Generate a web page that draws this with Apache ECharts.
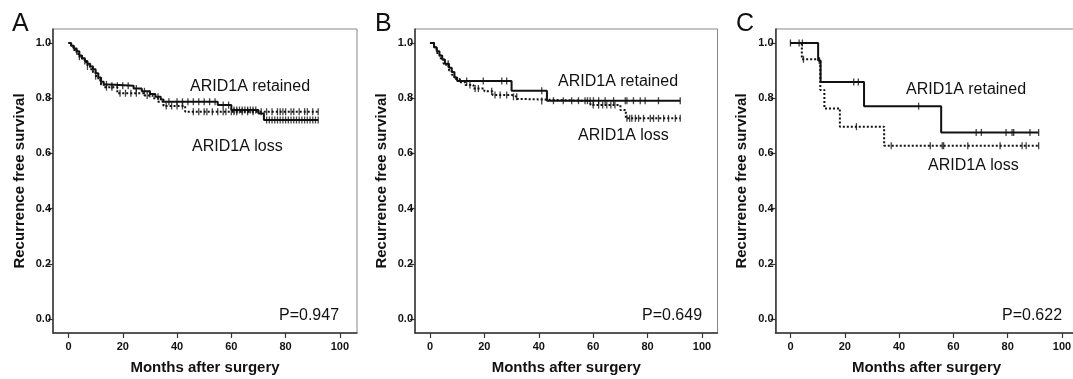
<!DOCTYPE html>
<html><head><meta charset="utf-8">
<script src="https://cdn.jsdelivr.net/npm/echarts@6/dist/echarts.min.js"></script>
<style>html,body{margin:0;padding:0;background:#fff;overflow:hidden}#c{width:1073px;height:379px}</style>
</head><body><div id="c"></div>
<script>
// ---- data ----
const xTicks = [0, 20, 40, 60, 80, 100];
const yTicks = [0, 0.2, 0.4, 0.6, 0.8, 1.0];
const panelLetters = ['A', 'B', 'C'];
const pValues = ['P=0.947', 'P=0.649', 'P=0.622'];
const groupNames = ['ARID1A retained', 'ARID1A loss'];
const xTitle = 'Months after surgery';
const yTitle = 'Recurrence free survival';

// Panel A: Kaplan-Meier steps [month, survival]
const aRetained = [[0,1.0],[1,0.99],[2,0.98],[3,0.97],[4,0.955],[5,0.945],[6,0.935],[7,0.925],[8,0.915],[9,0.905],[10,0.89],[11,0.875],[12,0.86],[13,0.85],[15,0.845],[24,0.835],[27,0.825],[30,0.815],[32,0.805],[34,0.795],[35,0.787],[55,0.775],[60,0.757],[70,0.745],[72,0.721],[92,0.721]];
const aLoss = [[0,1.0],[1,0.985],[2,0.975],[3,0.96],[4,0.95],[5,0.94],[6,0.93],[7,0.915],[8,0.905],[9,0.895],[10,0.88],[11,0.865],[12,0.85],[13,0.84],[18,0.818],[28,0.81],[31,0.80],[33,0.787],[35,0.772],[43,0.751],[92,0.751]];
const aRetainedCensor = [3,6,9,12,14,16,18,20,22,25,28,30,33,37,40,42,44,46,48,50,52,54,57,59,61,62,63,64,65,66,67,68,69,73,74,75,76,77,78,79,80,81,82,83,84,85,86,87,88,89,90,91,92];
const aLossCensor = [4,7,10,14,16,19,21,23,25,29,36,38,40,42,46,48,50,51,53,55,57,58,60,61,62,64,66,68,71,73,75,77,78,79,80,82,83,85,87,88,90,92];

// Panel B
const bRetained = [[0,1.0],[1.5,0.985],[2.5,0.97],[3.5,0.955],[4.5,0.94],[5.5,0.925],[7,0.91],[8,0.895],[9,0.875],[10,0.862],[30,0.827],[43,0.791],[92,0.791]];
const bLoss = [[0,1.0],[1.5,0.985],[2.5,0.97],[3,0.955],[4,0.94],[5,0.925],[6,0.915],[7,0.9],[8,0.885],[9,0.87],[11,0.858],[13,0.848],[16,0.835],[20,0.825],[23,0.812],[30,0.805],[32,0.797],[35,0.79],[59,0.775],[70,0.757],[72,0.727],[92,0.727]];
const bRetainedCensor = [6.7,13.5,19.6,26.4,28.2,41.1,45.4,49,52.1,54.6,57,57.9,58.9,60.1,62,64.4,67.5,71.8,72.4,74.8,77.3,79.1,84,92];
const bLossCensor = [14.7,16.6,17.8,22.7,23.9,25.8,28.2,30.7,31.9,41.1,60,62,63.5,65,66.5,68,72.4,73.4,74.2,75.5,76.7,78.5,81,82.2,84,85.9,87.7,90.2,92];

// Panel C
const cRetained = [[0,1.0],[10.2,0.937],[11.1,0.859],[27.1,0.771],[55.5,0.676],[91.4,0.676]];
const cLoss = [[0,1.0],[4.2,0.941],[11,0.83],[12.5,0.763],[18.2,0.697],[34.5,0.628],[91.4,0.628]];
const cRetainedCensor = [0,3.2,4.4,10.6,23.3,25,47.2,68.4,70.3,79.4,81.6,82.2,88.2,91.4];
const cLossCensor = [4.8,24.3,37.1,51.5,55.9,56.4,65.3,77.2,85.3,86.8,91.4];

// ---- build ----
const curves = [[aRetained, aLoss], [bRetained, bLoss], [cRetained, cLoss]];
const censors = [[aRetainedCensor, aLossCensor], [bRetainedCensor, bLossCensor], [cRetainedCensor, cLossCensor]];

function survAt(steps, t) {
  let s = steps[0][1];
  for (const p of steps) { if (p[0] <= t) s = p[1]; else break; }
  return s;
}

const FONT = '"Liberation Sans", Arial, sans-serif';
const INK = '#111';
const grids = [
  {left: 53, top: 29, width: 304, height: 304},
  {left: 415, top: 29, width: 302.5, height: 304},
  {left: 775.5, top: 29, width: 302, height: 304}
];
const xRanges = [[-5.7, 106.3], [-5.5, 105.7], [-5.5, 105.7]];
const annot = [
  {ret: [190, 87], loss: [192, 147], p: [279, 316], letter: [12, 24]},
  {ret: [558, 82], loss: [578, 136], p: [642, 316], letter: [375, 24]},
  {ret: [906, 90], loss: [928, 166], p: [1002, 316], letter: [736, 24]}
];

const option = {
  animation: false,
  backgroundColor: '#fff',
  grid: grids.map(g => Object.assign({show: true, borderColor: '#888', borderWidth: 1, backgroundColor: '#fff',
    containLabel: false, outerBoundsMode: 'none'}, g)),
  xAxis: grids.map((g, i) => ({
    type: 'value', gridIndex: i, min: xRanges[i][0], max: xRanges[i][1],
    name: xTitle, nameLocation: 'middle', nameGap: 27,
    nameTextStyle: {fontFamily: FONT, fontWeight: 'bold', fontSize: 15, color: INK},
    axisLine: {show: true, onZero: false, lineStyle: {color: '#333', width: 1.5}},
    axisTick: {show: true, length: 5, customValues: xTicks, lineStyle: {color: '#333', width: 1.2}},
    axisLabel: {customValues: xTicks, margin: 8, fontFamily: FONT, fontWeight: 'bold', fontSize: 11, color: INK,
      formatter: v => String(Math.round(v))},
    splitLine: {show: false}
  })),
  yAxis: grids.map((g, i) => ({
    type: 'value', gridIndex: i, min: -0.0507, max: 1.0507,
    name: yTitle, nameLocation: 'middle', nameGap: 26, nameRotate: 90,
    nameTextStyle: {fontFamily: FONT, fontWeight: 'bold', fontSize: 15, color: INK},
    axisLine: {show: true, onZero: false, lineStyle: {color: '#333', width: 1.5}},
    axisTick: {show: true, length: 5, customValues: yTicks, lineStyle: {color: '#333', width: 1.2}},
    axisLabel: {customValues: yTicks, margin: 2, fontFamily: FONT, fontWeight: 'bold', fontSize: 11, color: INK,
      formatter: v => v.toFixed(1)},
    splitLine: {show: false}
  })),
  series: [],
  graphic: []
};

curves.forEach((pair, i) => {
  pair.forEach((steps, k) => {
    option.series.push({
      type: 'line', xAxisIndex: i, yAxisIndex: i, step: 'end', data: steps,
      showSymbol: false, silent: true, z: k === 0 ? 4 : 3,
      lineStyle: {color: INK, width: 2, type: k === 0 ? 'solid' : [2, 2]}
    });
    option.series.push({
      type: 'scatter', xAxisIndex: i, yAxisIndex: i, silent: true, z: 5,
      data: censors[i][k].map(t => [t, survAt(steps, t)]),
      symbol: 'rect', symbolSize: [1.3, 7],
      itemStyle: {color: INK}
    });
  });
  const a = annot[i];
  option.graphic.push(
    {type: 'text', x: a.letter[0], y: a.letter[1], style: {text: panelLetters[i], font: '25px ' + FONT, fill: INK, textVerticalAlign: 'middle'}},
    {type: 'text', x: a.ret[0], y: a.ret[1], style: {text: groupNames[0], font: '16px ' + FONT, fill: INK, textVerticalAlign: 'middle'}, z: 10},
    {type: 'text', x: a.loss[0], y: a.loss[1], style: {text: groupNames[1], font: '16px ' + FONT, fill: INK, textVerticalAlign: 'middle'}, z: 10},
    {type: 'text', x: a.p[0], y: a.p[1], style: {text: pValues[i], font: '16px ' + FONT, fill: INK, textVerticalAlign: 'middle'}, z: 10}
  );
});

const chart = echarts.init(document.getElementById('c'), null, {renderer: 'canvas'});
chart.setOption(option);
</script>
</body></html>
